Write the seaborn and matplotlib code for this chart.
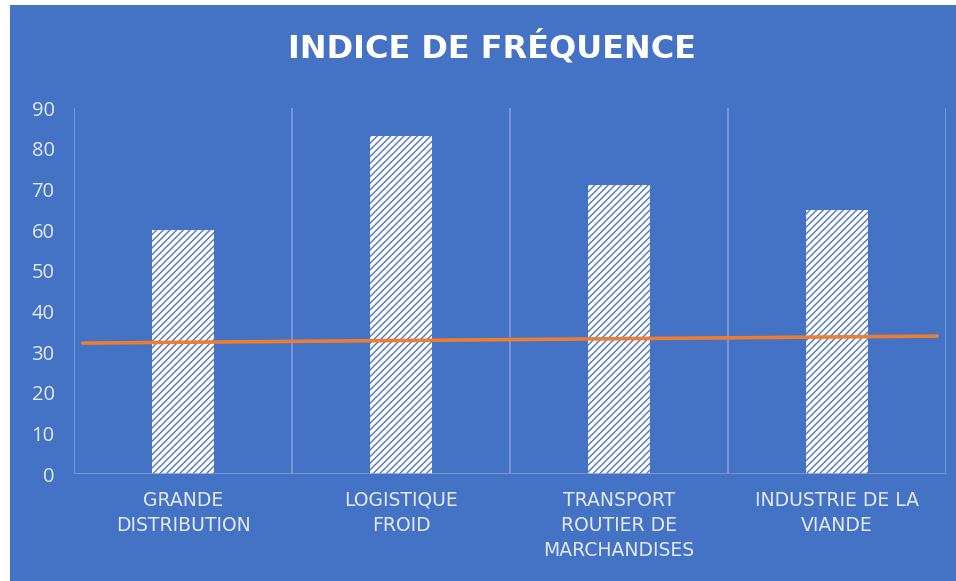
import numpy as np
import pandas as pd
import seaborn as sns
import matplotlib.pyplot as plt
from matplotlib.patches import Rectangle

# data
categories = ["GRANDE\nDISTRIBUTION", "LOGISTIQUE\nFROID",
              "TRANSPORT\nROUTIER DE\nMARCHANDISES", "INDUSTRIE DE LA\nVIANDE"]
frequence = [60, 83, 71, 65]
tendance = [32.4, 32.8, 33.3, 33.7]
y_ticks = [0, 10, 20, 30, 40, 50, 60, 70, 80, 90]

BLUE = "#4472C4"
GRID = "#7E9ED9"
TEXT = "#E4EAF6"

sns.set_theme(style="white")
plt.rcParams['font.family'] = ['Open Sans', 'DejaVu Sans']
plt.rcParams['hatch.linewidth'] = 1.0

fig = plt.figure(figsize=(9.56, 5.81), dpi=100, facecolor="white")
# blue chart area with thin white margin on left/top
fig.patches.append(Rectangle((10 / 956, 0), 1, 1 - 5 / 581, transform=fig.transFigure,
                             facecolor=BLUE, edgecolor="none", zorder=-10))

ax = fig.add_axes([74 / 956, 1 - 474 / 581, (946 - 74) / 956, (474 - 108) / 581])
ax.set_facecolor(BLUE)
ax.patch.set_alpha(0)

df = pd.DataFrame({"cat": categories, "val": frequence})
sns.barplot(data=df, x="cat", y="val", color="white", width=0.28, ax=ax,
            saturation=1, zorder=3)
for bar in ax.patches:
    bar.set_hatch("/////")
    bar.set_edgecolor("#5377C6")
    bar.set_linewidth(0)

ax.set_ylim(0, 90)

# orange trend line, stopping a little inside the plot edges
ax.set_xlim(-0.46, 3.46)
sns.regplot(x=np.arange(len(tendance)), y=tendance, scatter=False, ci=None,
            truncate=False, color="#ED7D31", line_kws={"linewidth": 2.6, "zorder": 4},
            ax=ax)
ax.set_xlim(-0.5, 3.5)

# vertical separators between categories
for b in np.arange(len(categories) + 1) - 0.5:
    ax.axvline(b, color=GRID, linewidth=1.2, zorder=1)
ax.axhline(0, color=GRID, linewidth=1.2, zorder=5)

for s in ax.spines.values():
    s.set_visible(False)

ax.set_yticks(y_ticks)
ax.set_yticklabels([str(t) for t in y_ticks], color=TEXT, fontsize=14.5)
ax.set_xticks(range(len(categories)))
ax.set_xticklabels(categories, color=TEXT, fontsize=13.5, linespacing=1.4,
                   family="DejaVu Sans")
ax.tick_params(axis="both", length=0)
ax.tick_params(axis="y", pad=14)
ax.tick_params(axis="x", pad=12)
ax.set_xlabel("")
ax.set_ylabel("")

fig.text(0.515, 1 - 47 / 581, "INDICE DE FRÉQUENCE", color="white", fontsize=23,
         fontweight="bold", ha="center", va="center", family="DejaVu Sans")

fig.savefig("out.png", dpi=100, facecolor=fig.get_facecolor())
